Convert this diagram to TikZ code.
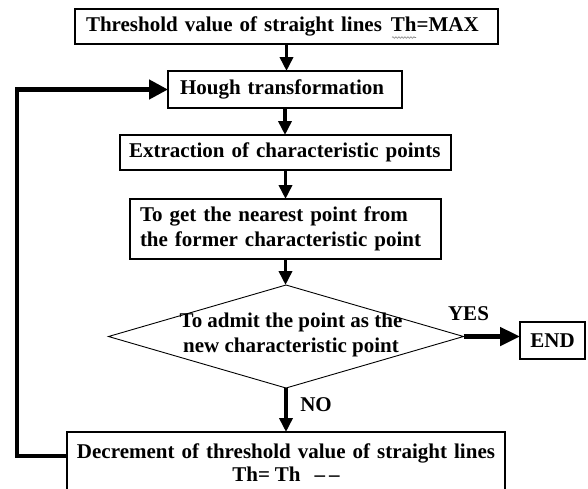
\documentclass[tikz,border=0pt]{standalone}
\usepackage{fontspec}
\setmainfont{Liberation Serif}
\usetikzlibrary{arrows.meta,shapes.geometric,decorations.pathmorphing}
\begin{document}
\begin{tikzpicture}[x=1pt,y=-1pt,
  font=\bfseries\fontsize{21}{25}\selectfont,
  box/.style={draw, line width=1.1pt, inner ysep=0pt, outer sep=0pt},
  flow/.style={line width=3.5pt, -{Triangle[length=14pt,width=13pt]}},
  yesarrow/.style={line width=4.7pt, -{Triangle[length=20pt,width=18pt]}},
  loopline/.style={line width=4.5pt, line join=miter, -{Triangle[length=19pt,width=19pt]}},
  lbl/.style={inner sep=0pt}]
\useasboundingbox (0,0) rectangle (588,488);
\fill[white] (0,0) rectangle (588,488);
\clip (0,0) rectangle (588,488);

\node[box, minimum width=423pt, minimum height=35pt, text width=401pt, inner xsep=11pt, align=left] (b1) at (286.5,26.5) {Threshold value of straight lines \hspace{2pt}Th=MAX};
\node[box, minimum width=234pt, minimum height=37pt, text width=210pt, inner xsep=12pt, align=left] (hough) at (285,89.5) {Hough transformation};
\node[box, minimum width=331pt, minimum height=35pt, text width=313pt, inner xsep=9pt, align=left] (b3) at (285.5,152.5) {Extraction of characteristic points};
\node[box, minimum width=311pt, minimum height=60pt, text width=291pt, inner xsep=10pt, align=left] (b4) at (285.5,229) {To get the nearest point from\\the former characteristic point};
\node[draw, diamond, line width=0.9pt, minimum width=355pt, minimum height=103pt, inner sep=0pt, outer sep=0pt] (dec) at (286,336.5) {};
\node[lbl, align=center] (dect) at (291,335) {To admit the point as the\\new characteristic point};
\node[box, minimum width=65pt, minimum height=37pt, inner xsep=0pt] (end) at (552.5,340.5) {END};
\node[box, minimum width=438pt, minimum height=61pt, text width=438pt, inner xsep=0pt, align=center, font=\bfseries\fontsize{21}{23}\selectfont] (b5) at (286,462.5) {Decrement of threshold value of straight lines\\Th=\hspace{5pt}Th\hspace{14pt}–\kern4pt–\hspace*{24pt}};

\node[lbl] (yes) at (468.5,313.5) {YES};
\node[lbl] (no) at (316,405) {NO};

\coordinate (lp) at (17,456);

\draw[flow] (b1.south) -- (b1.south |- hough.north);
\draw[flow] (hough.south) -- (hough.south |- b3.north);
\draw[flow] (b3.south) -- (b3.south |- b4.north);
\draw[flow] (b4.south) -- (b4.south |- dec.north);
\draw[flow] (dec.south) -- (dec.south |- b5.north);
\draw[yesarrow] (dec.east) -- (dec.east -| end.west);
\draw[loopline] (b5.west |- lp) -- (lp) |- (hough.west);

\draw[gray, line width=0.6pt, decorate, decoration={snake, amplitude=0.8pt, segment length=3pt}] (392,37.5) -- (416,37.5);
\end{tikzpicture}
\end{document}
